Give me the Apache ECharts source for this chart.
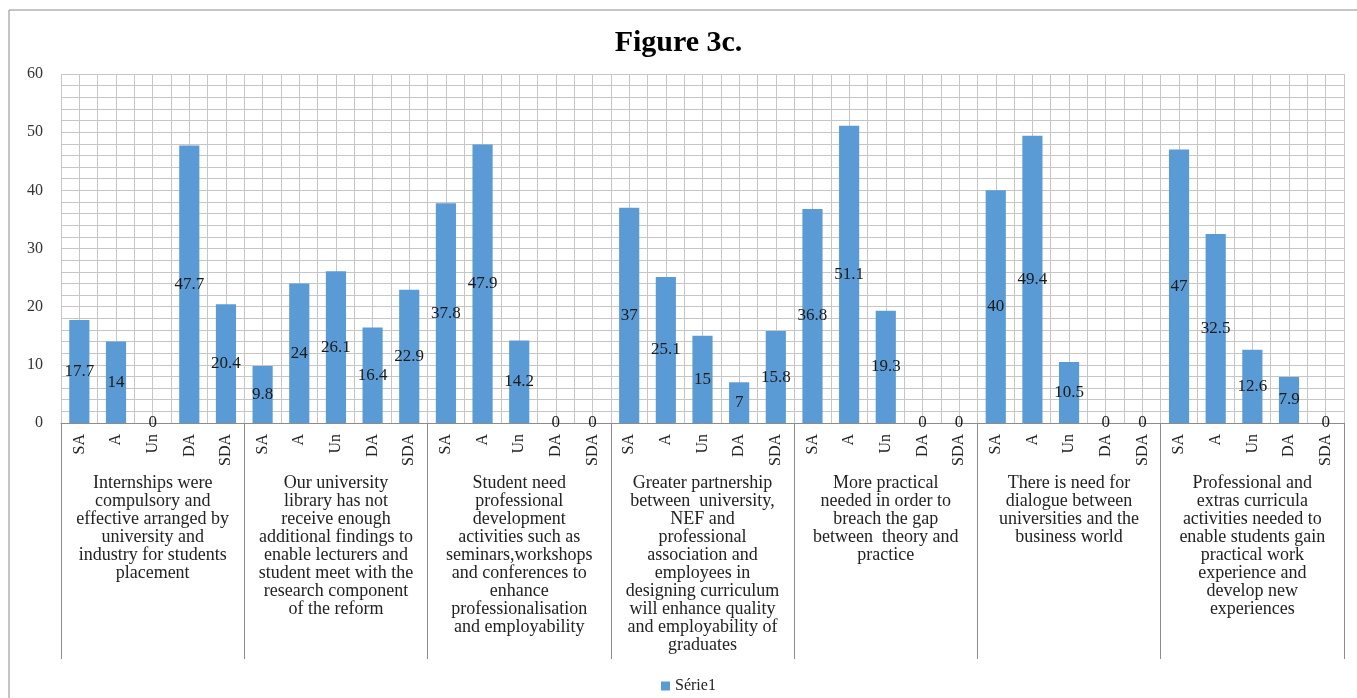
<!DOCTYPE html>
<html>
<head>
<meta charset="utf-8">
<script src="https://cdn.jsdelivr.net/npm/echarts@6/dist/echarts.min.js"></script>
<style>
  html, body { margin: 0; padding: 0; background: #fff; }
  #chart { width: 1357px; height: 698px; }
</style>
</head>
<body>
<div id="chart"></div>
<script>
// Response scale for each statement
const responses = ['SA', 'A', 'Un', 'DA', 'SDA'];

// Statements (one group of five bars each)
const statements = [
  'Internships were\ncompulsory and\neffective arranged by\nuniversity and\nindustry for students\nplacement',
  'Our university\nlibrary has not\nreceive enough\nadditional findings to\nenable lecturers and\nstudent meet with the\nresearch component\nof the reform',
  'Student need\nprofessional\ndevelopment\nactivities such as\nseminars,workshops\nand conferences to\nenhance\nprofessionalisation\nand employability',
  'Greater partnership\nbetween  university,\nNEF and\nprofessional\nassociation and\nemployees in\ndesigning curriculum\nwill enhance quality\nand employability of\ngraduates',
  'More practical\nneeded in order to\nbreach the gap\nbetween  theory and\npractice',
  'There is need for\ndialogue between\nuniversities and the\nbusiness world',
  'Professional and\nextras curricula\nactivities needed to\nenable students gain\npractical work\nexperience and\ndevelop new\nexperiences'
];

// Percentages per statement, in the order SA, A, Un, DA, SDA
const internships   = [17.7, 14, 0, 47.7, 20.4];
const library       = [9.8, 24, 26.1, 16.4, 22.9];
const development   = [37.8, 47.9, 14.2, 0, 0];
const partnership   = [37, 25.1, 15, 7, 15.8];
const practical     = [36.8, 51.1, 19.3, 0, 0];
const dialogue      = [40, 49.4, 10.5, 0, 0];
const extracurricula = [47, 32.5, 12.6, 7.9, 0];

const seriesName = 'Série1';
const yTicks = { min: 0, max: 60, step: 10 };

const groups = [internships, library, development, partnership, practical, dialogue, extracurricula];
const values = groups.flat();
const categories = groups.flatMap(() => responses);

const serif = '"Liberation Serif", "Times New Roman", serif';
const gridColor = '#c6c6c6';
const axisColor = '#8c8c8c';

const chart = echarts.init(document.getElementById('chart'), null, { renderer: 'canvas' });

chart.setOption({
  backgroundColor: '#ffffff',
  animation: false,
  title: {
    text: 'Figure 3c.',
    left: 'center',
    top: 23,
    textStyle: { fontFamily: serif, fontSize: 30, fontWeight: 'bold', color: '#000' }
  },
  legend: {
    data: [seriesName],
    left: 656,
    top: 673,
    itemWidth: 9,
    itemHeight: 9,
    icon: 'rect',
    itemGap: 6,
    textStyle: { fontFamily: serif, fontSize: 16, color: '#222' }
  },
  graphic: [
    { type: 'line', shape: { x1: 9, y1: 10, x2: 1357, y2: 10 }, style: { stroke: '#8a8a8a', lineWidth: 1 } },
    { type: 'line', shape: { x1: 9, y1: 10, x2: 9, y2: 698 }, style: { stroke: '#8a8a8a', lineWidth: 1 } }
  ],
  grid: { left: 61, right: 13, top: 74, bottom: 275, containLabel: false },
  xAxis: [
    {
      type: 'category',
      data: categories,
      position: 'bottom',
      axisLine: { show: true, lineStyle: { color: axisColor, width: 1 } },
      axisTick: { show: false },
      splitLine: { show: false },
      axisLabel: {
        interval: 0,
        rotate: 90,
        margin: 11,
        fontFamily: serif,
        fontSize: 16,
        color: '#222'
      }
    },
    {
      type: 'category',
      data: statements,
      position: 'bottom',
      axisLine: { show: false },
      axisTick: { show: true, interval: 0, length: 236, lineStyle: { color: axisColor, width: 1 } },
      splitLine: { show: false },
      axisLabel: {
        interval: 0,
        margin: 51,
        fontFamily: serif,
        fontSize: 18,
        lineHeight: 18,
        color: '#222',
        align: 'center'
      }
    },
    {
      // fine vertical grid: one line at every category edge and centre
      type: 'value',
      position: 'top',
      min: 0,
      max: categories.length * 2,
      interval: 1,
      axisLine: { show: false },
      axisTick: { show: false },
      axisLabel: { show: false },
      splitLine: { show: true, lineStyle: { color: gridColor, width: 1 } }
    }
  ],
  yAxis: {
    type: 'value',
    min: yTicks.min,
    max: yTicks.max,
    interval: yTicks.step,
    axisLine: { show: false },
    axisTick: { show: false },
    axisLabel: { margin: 18, fontFamily: serif, fontSize: 16, color: '#333' },
    splitLine: { show: true, lineStyle: { color: gridColor, width: 1 } },
    minorTick: { show: false, splitNumber: 5 },
    minorSplitLine: { show: true, lineStyle: { color: gridColor, width: 1 } }
  },
  series: [
    {
      name: seriesName,
      type: 'bar',
      xAxisIndex: 0,
      yAxisIndex: 0,
      data: values,
      barWidth: '55%',
      itemStyle: { color: '#5b9bd5' },
      label: {
        show: true,
        position: 'inside',
        fontFamily: serif,
        fontSize: 17,
        color: '#1a1a1a'
      },
      z: 3
    }
  ]
});
</script>
</body>
</html>
